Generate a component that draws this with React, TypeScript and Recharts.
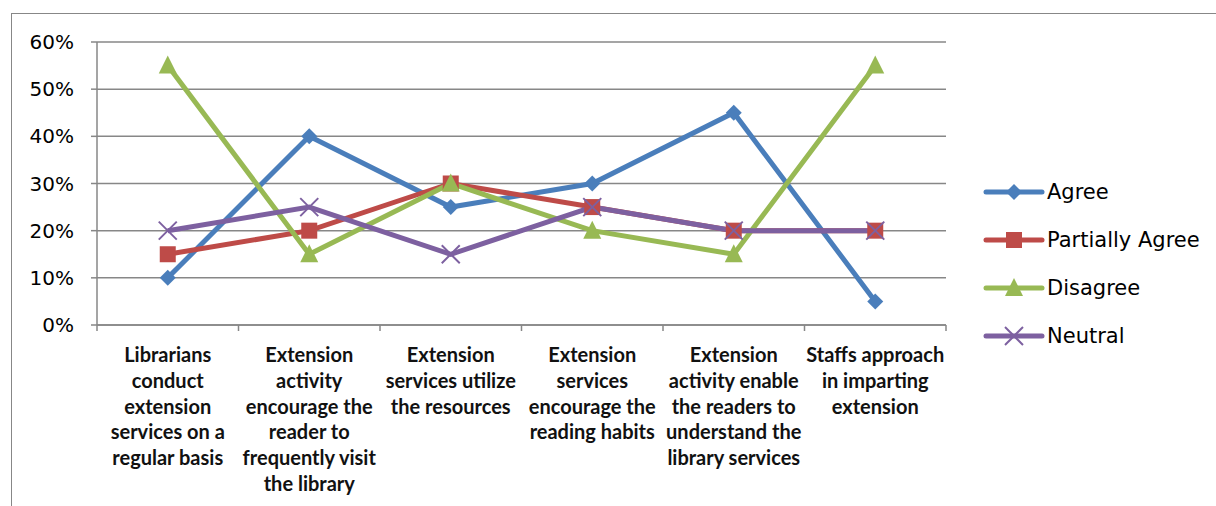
import React from "react";
import { LineChart, Line, XAxis, YAxis, CartesianGrid, Legend } from "recharts";

const categories = [
  "Librarians\nconduct\nextension\nservices on a\nregular basis",
  "Extension\nactivity\nencourage the\nreader to\nfrequently visit\nthe library",
  "Extension\nservices utilize\nthe resources",
  "Extension\nservices\nencourage the\nreading habits",
  "Extension\nactivity enable\nthe readers to\nunderstand the\nlibrary services",
  "Staffs approach\nin imparting\nextension",
];
const agree = [10, 40, 25, 30, 45, 5];
const partiallyAgree = [15, 20, 30, 25, 20, 20];
const disagree = [55, 15, 30, 20, 15, 55];
const neutral = [20, 25, 15, 25, 20, 20];
const yTicks = [0, 10, 20, 30, 40, 50, 60];

const seriesNames = ["Agree", "Partially Agree", "Disagree", "Neutral"];
const colors = ["#4A7EBB", "#BE4B48", "#98B954", "#7D60A0"];

const data = categories.map((c, i) => ({
  cat: c,
  Agree: agree[i],
  "Partially Agree": partiallyAgree[i],
  Disagree: disagree[i],
  Neutral: neutral[i],
}));

const W = 1216;
const H = 506;
const M = { top: 42, right: 270, left: 0, bottom: 0 };
const YW = 97;
const XH = 181;
const PLOT_W = W - M.right - YW;
const BW = PLOT_W / categories.length;
const GRAY = "#878787";

function Marker({ kind, cx, cy, color }: { kind: number; cx: number; cy: number; color: string }) {
  if (kind === 0) {
    const s = 8;
    return <polygon points={`${cx},${cy - s} ${cx + s},${cy} ${cx},${cy + s} ${cx - s},${cy}`} fill={color} />;
  }
  if (kind === 1) {
    const s = 8;
    return <rect x={cx - s} y={cy - s} width={2 * s} height={2 * s} fill={color} />;
  }
  if (kind === 2) {
    const s = 9;
    return <polygon points={`${cx},${cy - s - 1} ${cx + s},${cy + s - 1} ${cx - s},${cy + s - 1}`} fill={color} />;
  }
  const s = 9;
  return (
    <g stroke={color} strokeWidth={2}>
      <line x1={cx - s} y1={cy - s} x2={cx + s} y2={cy + s} />
      <line x1={cx - s} y1={cy + s} x2={cx + s} y2={cy - s} />
    </g>
  );
}

const makeDot = (kind: number) => (props: any) => {
  const { cx, cy, index } = props;
  if (cx == null || cy == null) return <g key={`d${kind}-${index}`} />;
  return (
    <g key={`d${kind}-${index}`}>
      <Marker kind={kind} cx={cx} cy={cy} color={colors[kind]} />
    </g>
  );
};

const XTick = (props: any) => {
  const { x, y, payload, index } = props;
  const lines = String(payload.value).split("\n");
  return (
    <g>
      <line x1={x - BW / 2} y1={y} x2={x - BW / 2} y2={y + 6} stroke={GRAY} strokeWidth={1.5} />
      {index === categories.length - 1 && (
        <line x1={x + BW / 2} y1={y} x2={x + BW / 2} y2={y + 6} stroke={GRAY} strokeWidth={1.5} />
      )}
      <text
        x={x}
        y={y + 37}
        textAnchor="middle"
        fontFamily="Lato"
        fontWeight="bold"
        fontSize={20}
        fill="#111"
      >
        {lines.map((l, i) => (
          <tspan key={i} x={x} dy={i === 0 ? 0 : 25.8}>
            {l}
          </tspan>
        ))}
      </text>
    </g>
  );
};

const renderLegend = () => (
  <svg width={236} height={200}>
    {seriesNames.map((n, i) => {
      const cy = 24 + i * 48;
      return (
        <g key={n}>
          <line x1={6} y1={cy} x2={62} y2={cy} stroke={colors[i]} strokeWidth={5} strokeLinecap="round" />
          <Marker kind={i} cx={34} cy={cy} color={colors[i]} />
          <text x={67} y={cy + 7} fontFamily="DejaVu Sans" fontSize={21} fill="#000">
            {n}
          </text>
        </g>
      );
    })}
  </svg>
);

export default function App() {
  return (
    <div style={{ position: "absolute", left: 0, top: 0, width: W, height: H, background: "#fff" }}>
      <div
        style={{
          position: "absolute",
          left: 11,
          top: 13,
          width: W - 11,
          height: H - 13,
          borderLeft: `1.5px solid ${GRAY}`,
          borderTop: `1.5px solid ${GRAY}`,
          boxSizing: "border-box",
        }}
      />
      <div style={{ position: "absolute", left: 0, top: 0 }}>
        <LineChart width={W} height={H} data={data} margin={M}>
          <CartesianGrid vertical={false} stroke={GRAY} strokeWidth={1.5} />
          <XAxis
            dataKey="cat"
            scale="band"
            interval={0}
            height={XH}
            tickSize={0}
            tickMargin={0}
            tickLine={false}
            axisLine={{ stroke: GRAY, strokeWidth: 1.5 }}
            tick={<XTick />}
          />
          <YAxis
            width={YW}
            domain={[0, 60]}
            ticks={yTicks}
            interval={0}
            tickFormatter={(v: number) => `${v}%`}
            tickSize={6}
            tickMargin={17}
            axisLine={{ stroke: GRAY, strokeWidth: 1.5 }}
            tickLine={{ stroke: GRAY, strokeWidth: 1.5 }}
            tick={{ fill: "#000", fontSize: 20, fontFamily: "DejaVu Sans" }}
          />
          <Legend
            layout="horizontal"
            align="center"
            verticalAlign="middle"
            content={renderLegend}
            wrapperStyle={{ position: "absolute", left: 980, top: 168, width: 236, height: 200 }}
          />
          {seriesNames.map((n, i) => (
            <Line
              key={n}
              dataKey={n}
              stroke={colors[i]}
              strokeWidth={5}
              dot={makeDot(i)}
              activeDot={false}
              isAnimationActive={false}
            />
          ))}
        </LineChart>
      </div>
    </div>
  );
}
